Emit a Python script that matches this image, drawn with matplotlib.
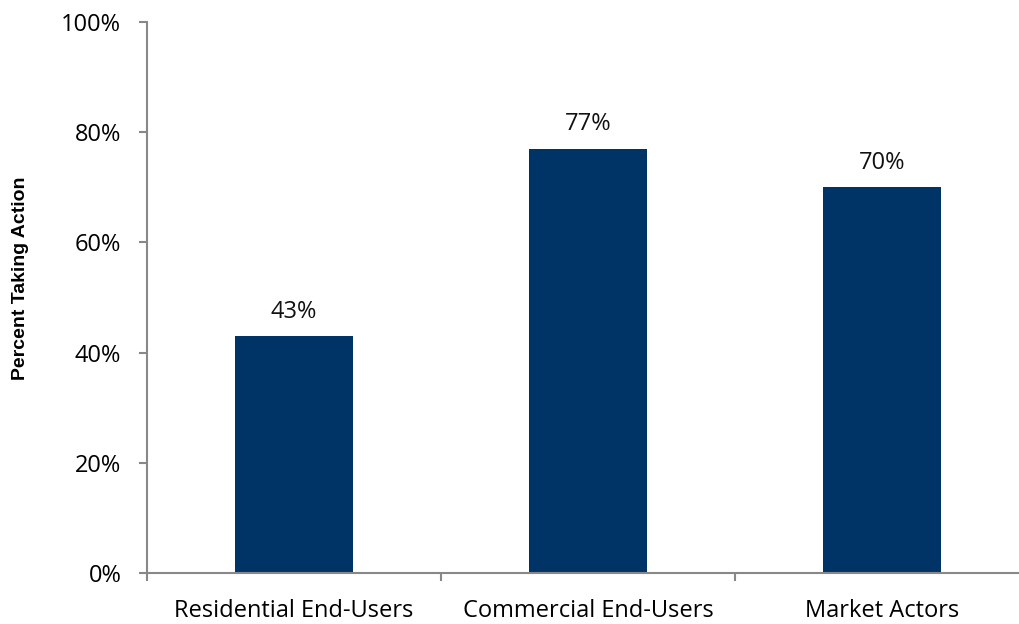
import numpy as np
import matplotlib.pyplot as plt

categories = ["Residential End-Users", "Commercial End-Users", "Market Actors"]
values = [43, 77, 70]
yticks = [0, 20, 40, 60, 80, 100]

W, H = 1019, 624
fig = plt.figure(figsize=(W / 100, H / 100), dpi=100)
# axes runs off the right edge of the figure
ax = fig.add_axes([147 / W, 1 - 573 / H, 882 / W, 551 / H])

x = np.arange(len(categories))
ax.bar(x, values, width=0.4, color="#003366", zorder=2)
ax.set_xlim(-0.5, len(categories) - 0.5)
ax.set_ylim(0, 100)

tick_font = dict(family=["Open Sans", "DejaVu Sans"], size=17)
for xi, v in zip(x, values):
    ax.annotate(f"{v}%", (xi, v), xytext=(0, 9), textcoords="offset points",
                ha="center", va="bottom", color="#111111", **tick_font)

ax.set_yticks(yticks)
ax.set_yticklabels([f"{t}%" for t in yticks], **tick_font)
ax.set_xticks(x)
ax.set_xticklabels(categories, **tick_font)
ax.tick_params(axis="x", which="major", length=0, pad=19)
# category separators on the x axis
ax.set_xticks(np.arange(len(categories) + 1) - 0.5, minor=True)
ax.tick_params(axis="x", which="minor", length=5.5, color="#888888", width=1.5, direction="out")
ax.tick_params(axis="y", length=5.5, color="#888888", width=1.5, direction="out", pad=13)

for s in ["top", "right"]:
    ax.spines[s].set_visible(False)
for s in ["left", "bottom"]:
    ax.spines[s].set_color("#888888")
    ax.spines[s].set_linewidth(1.5)

ax.set_ylabel("Percent Taking Action", family=["Liberation Sans"], fontsize=14,
              fontweight="bold")
ax.yaxis.set_label_coords(-118 / 882, (573 - 278) / 551)

fig.savefig("out.png", dpi=100)
